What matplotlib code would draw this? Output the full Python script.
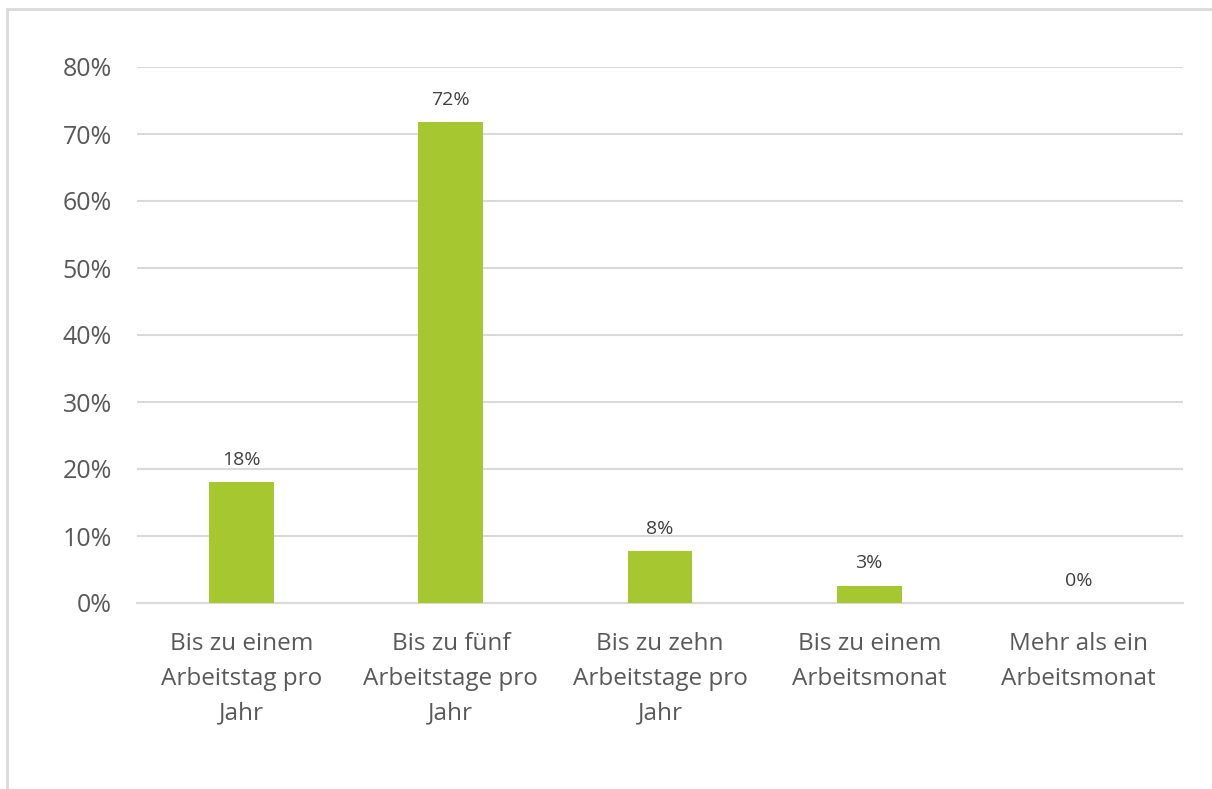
import matplotlib
matplotlib.use("Agg")
import matplotlib.pyplot as plt
from matplotlib.patches import Rectangle
from matplotlib.ticker import FuncFormatter

categories = ["Bis zu einem\nArbeitstag pro\nJahr",
              "Bis zu fünf\nArbeitstage pro\nJahr",
              "Bis zu zehn\nArbeitstage pro\nJahr",
              "Bis zu einem\nArbeitsmonat",
              "Mehr als ein\nArbeitsmonat"]
values = [0.18, 0.718, 0.077, 0.026, 0.0]
labels = ["18%", "72%", "8%", "3%", "0%"]

plt.rcParams['font.family'] = ['Open Sans', 'DejaVu Sans']
text_col = '#595959'
grid_col = '#d9d9d9'

fig = plt.figure(figsize=(12.12, 7.89), dpi=100)
# outer chart border (runs off the right and bottom edge)
fig.patches.append(Rectangle((7 / 1212, -0.1), 1.2, 1 - 9 / 789 + 0.1,
                             transform=fig.transFigure, fill=False,
                             edgecolor=grid_col, linewidth=2))

ax = fig.add_axes([137 / 1212, 1 - 603 / 789, 1046 / 1212, 536 / 789])
x = range(len(categories))
ax.bar(x, values, width=0.31, color='#a7c731', zorder=3)
for i, (v, t) in enumerate(zip(values, labels)):
    ax.text(i, v + 0.02, t, ha='center', va='bottom', fontsize=14, color='#404040')

ax.set_xlim(-0.5, 4.5)
ax.set_ylim(0, 0.8)
ax.set_yticks([i / 10 for i in range(9)])
ax.yaxis.set_major_formatter(FuncFormatter(lambda v, p: f"{v * 100:.0f}%"))
ax.set_xticks(list(x))
ax.set_xticklabels(categories, fontsize=17.5, color=text_col, linespacing=1.6)
ax.tick_params(axis='y', labelsize=18, labelcolor=text_col, length=0, pad=18)
ax.tick_params(axis='x', length=0, pad=21)
ax.grid(axis='y', color=grid_col, linewidth=1.5, zorder=0)
for s in ['top', 'right', 'left']:
    ax.spines[s].set_visible(False)
ax.spines['bottom'].set_color(grid_col)
ax.spines['bottom'].set_linewidth(1.5)

fig.savefig("out.png", dpi=100)
